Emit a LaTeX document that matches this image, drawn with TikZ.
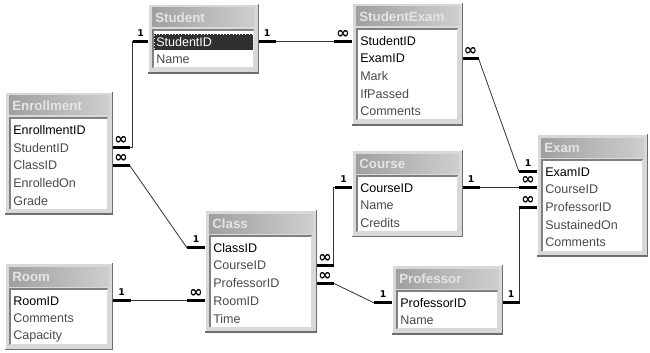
\documentclass[tikz,border=0pt]{standalone}
\usepackage{fontspec}
\setmainfont{Liberation Sans}
\newfontfamily\symfont{DejaVu Sans}
\usetikzlibrary{calc}
\definecolor{frameface}{HTML}{D8D8D8}
\definecolor{frameshadow}{HTML}{6E6E6E}
\definecolor{titleL}{HTML}{A0A0A0}
\definecolor{titleR}{HTML}{CECECE}
\definecolor{titletxt}{HTML}{E4E4E4}
\definecolor{fieldgray}{HTML}{4A4A4A}
\definecolor{selbg}{HTML}{303030}
\tikzset{
  tblouter/.style={fill=frameface, draw=none, inner sep=0pt, anchor=north west},
  titletext/.style={anchor=west, inner sep=0pt, text=titletxt, font=\bfseries\fontsize{10}{11}\selectfont},
  keyfield/.style={anchor=west, inner sep=0pt, text=black, font=\fontsize{9.4}{10}\selectfont},
  field/.style={anchor=west, inner sep=0pt, text=fieldgray, font=\fontsize{9.4}{10}\selectfont},
  selfield/.style={anchor=west, inner xsep=1.5pt, inner ysep=2.5pt, xshift=-1.5pt, text=white, fill=selbg,
    draw=white, dotted, text width=71pt, font=\fontsize{9.4}{10}\selectfont},
  rel/.style={draw=black!80, line width=0.6pt},
  relend/.style={draw=black, line width=2.4pt},
  card/.style={inner sep=0pt, above=2.5pt, font=\symfont\bfseries\fontsize{7}{7}\selectfont},
  inf/.style={inner sep=0pt, above=1.2pt, font=\symfont\bfseries\fontsize{12}{12}\selectfont},
}
% #1 name, #2 x, #3 y, #4 width, #5 title, #6 rows, #7 number of rows
\newcommand\ertable[7]{%
  \pgfmathsetmacro\erh{33+#7*17.7}%
  \node[tblouter, minimum width=#4*0.75pt, minimum height=\erh*0.75pt] (#1) at (#2,#3) {};
  \draw[white, line width=0.8pt] (#1.south west) -- (#1.north west) -- (#1.north east);
  \draw[frameshadow, line width=1.2pt] (#1.north east) -- (#1.south east) -- (#1.south west);
  \shade[left color=titleL, right color=titleR] ($(#1.north west)+(4,4)$) rectangle ($(#1.north east)+(-4,23)$);
  \node[titletext] (#1-title) at ($(#1.north west)+(7,14)$) {#5};
  \fill[white] ($(#1.north west)+(5,26)$) rectangle ($(#1.south east)+(-5,-5)$);
  \draw[gray, line width=0.8pt] ($(#1.south west)+(5,-5)$) -- ($(#1.north west)+(5,26)$) -- ($(#1.north east)+(-5,26)$);
  \draw[black!15, line width=0.8pt] ($(#1.north east)+(-5,26)$) -- ($(#1.south east)+(-5,-5)$) -- ($(#1.south west)+(5,-5)$);
  \foreach \t/\s [count=\i] in {#6} {
    \node[\s] (#1-\i) at ($(#1.north west)+(8,{29+(\i-0.5)*17.7})$) {\t};
  }
}
\begin{document}
\begin{tikzpicture}[x=0.75pt, y=-0.75pt]
\useasboundingbox (0,0) rectangle (650,353);
\fill[white] (0,0) rectangle (650,353);

\ertable{stu}{148}{4}{110}{Student}{StudentID/selfield, Name/field}{2}
\ertable{enr}{5}{92}{107}{Enrollment}{EnrollmentID/keyfield, StudentID/field, ClassID/field, EnrolledOn/field, Grade/field}{5}
\ertable{sxe}{352}{3}{110}{StudentExam}{StudentID/keyfield, ExamID/keyfield, Mark/field, IfPassed/field, Comments/field}{5}
\ertable{crs}{352}{150}{110}{Course}{CourseID/keyfield, Name/field, Credits/field}{3}
\ertable{exm}{537}{134}{110}{Exam}{ExamID/keyfield, CourseID/field, ProfessorID/field, SustainedOn/field, Comments/field}{5}
\ertable{cls}{205}{210}{111}{Class}{ClassID/keyfield, CourseID/field, ProfessorID/field, RoomID/field, Time/field}{5}
\ertable{rom}{5}{263}{107}{Room}{RoomID/keyfield, Comments/field, Capacity/field}{3}
\ertable{prf}{392}{265}{110}{Professor}{ProfessorID/keyfield, Name/field}{2}

% Student -- Enrollment
\draw[rel] (stu.west |- stu-1) -- ++(-16,0) |- (enr.east |- enr-2);
\draw[relend] (stu.west |- stu-1) -- ++(-15,0) node[card, midway] {1};
\draw[relend] (enr.east |- enr-2) -- ++(17,0) node[inf, midway] {∞};
% Enrollment -- Class
\draw[rel] ($(enr.east |- enr-3)+(17,0)$) -- ($(cls.west |- cls-1)+(-18,0)$);
\draw[relend] (enr.east |- enr-3) -- ++(17,0) node[inf, midway] {∞};
\draw[relend] (cls.west |- cls-1) -- ++(-18,0) node[card, midway] {1};
% Student -- StudentExam
\draw[rel] (stu.east |- stu-1) -- (sxe.west |- stu-1);
\draw[relend] (stu.east |- stu-1) -- ++(17,0) node[card, midway] {1};
\draw[relend] (sxe.west |- stu-1) -- ++(-18,0) node[inf, midway] {∞};
% StudentExam -- Exam
\draw[rel] ($(sxe.east |- sxe-2)+(16,0)$) -- ($(exm.west |- exm-1)+(-18,0)$);
\draw[relend] (sxe.east |- sxe-2) -- ++(16,0) node[inf, midway] {∞};
\draw[relend] (exm.west |- exm-1) -- ++(-18,0) node[card, midway] {1};
% Course -- Exam
\draw[rel] (crs.east |- crs-1) -- (exm.west |- crs-1);
\draw[relend] (crs.east |- crs-1) -- ++(17,0) node[card, midway] {1};
\draw[relend] (exm.west |- crs-1) -- ++(-18,0) node[inf, midway] {∞};
% Class -- Course
\draw[rel] (cls.east |- cls-2) -- ++(17,0) |- (crs.west |- crs-1);
\draw[relend] (cls.east |- cls-2) -- ++(17,0) node[inf, midway] {∞};
\draw[relend] (crs.west |- crs-1) -- ++(-17,0) node[card, midway] {1};
% Class -- Professor
\draw[rel] ($(cls.east |- cls-3)+(17,0)$) -- ($(prf.west |- prf-1)+(-18,0)$);
\draw[relend] (cls.east |- cls-3) -- ++(17,0) node[inf, midway] {∞};
\draw[relend] (prf.west |- prf-1) -- ++(-18,0) node[card, midway] {1};
% Professor -- Exam
\draw[rel] (prf.east |- prf-1) -- ++(17,0) |- (exm.west |- exm-3);
\draw[relend] (prf.east |- prf-1) -- ++(17,0) node[card, midway] {1};
\draw[relend] (exm.west |- exm-3) -- ++(-18,0) node[inf, midway] {∞};
% Room -- Class
\draw[rel] (rom.east |- rom-1) -- (cls.west |- rom-1);
\draw[relend] (rom.east |- rom-1) -- ++(18,0) node[card, midway] {1};
\draw[relend] (cls.west |- rom-1) -- ++(-18,0) node[inf, midway] {∞};
\end{tikzpicture}
\end{document}
